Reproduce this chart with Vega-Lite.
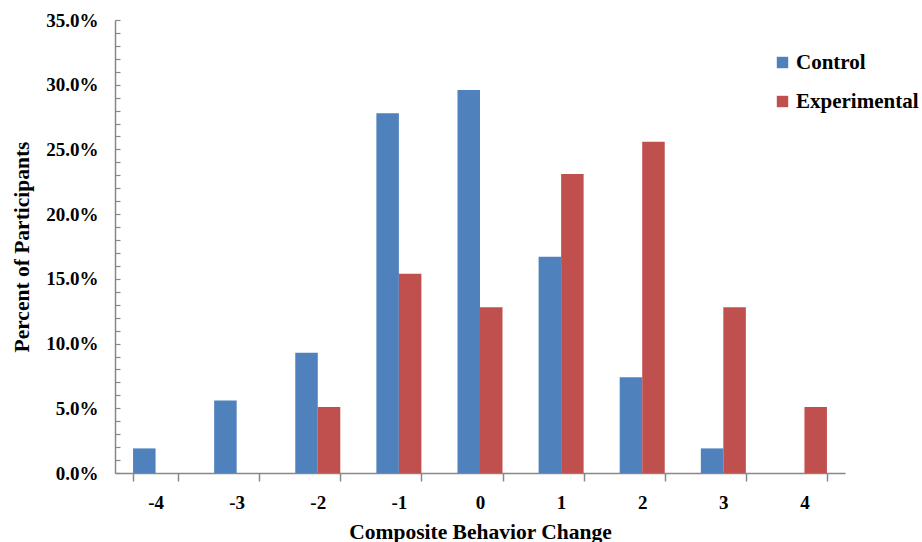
{
  "$schema": "https://vega.github.io/schema/vega-lite/v6.json",
  "autosize": {"type": "none"},
  "width": 730,
  "height": 453,
  "padding": {"left": 115, "top": 20, "right": 77, "bottom": 69},
  "background": "white",
  "config": {
    "view": {"stroke": null},
    "font": "Liberation Serif"
  },
  "data": {
    "values": [
      {"change": "-4", "group": "Control", "pct": 0.019},
      {"change": "-3", "group": "Control", "pct": 0.056},
      {"change": "-2", "group": "Control", "pct": 0.093},
      {"change": "-1", "group": "Control", "pct": 0.278},
      {"change": "0", "group": "Control", "pct": 0.296},
      {"change": "1", "group": "Control", "pct": 0.167},
      {"change": "2", "group": "Control", "pct": 0.074},
      {"change": "3", "group": "Control", "pct": 0.019},
      {"change": "4", "group": "Control", "pct": 0.0},
      {"change": "-4", "group": "Experimental", "pct": 0.0},
      {"change": "-3", "group": "Experimental", "pct": 0.0},
      {"change": "-2", "group": "Experimental", "pct": 0.051},
      {"change": "-1", "group": "Experimental", "pct": 0.154},
      {"change": "0", "group": "Experimental", "pct": 0.128},
      {"change": "1", "group": "Experimental", "pct": 0.231},
      {"change": "2", "group": "Experimental", "pct": 0.256},
      {"change": "3", "group": "Experimental", "pct": 0.128},
      {"change": "4", "group": "Experimental", "pct": 0.051}
    ]
  },
  "mark": {"type": "bar"},
  "encoding": {
    "x": {
      "field": "change",
      "type": "nominal",
      "sort": ["-4", "-3", "-2", "-1", "0", "1", "2", "3", "4"],
      "scale": {"paddingInner": 0.445, "paddingOuter": 0.2225},
      "axis": {
        "title": "Composite Behavior Change",
        "titleFont": "Liberation Serif",
        "titleFontSize": 21.5,
        "titleFontWeight": "bold",
        "titleColor": "black",
        "titlePadding": 9,
        "labelAngle": 0,
        "labelFont": "Liberation Serif",
        "labelFontSize": 19,
        "labelFontWeight": "bold",
        "labelColor": "black",
        "labelPadding": 12,
        "tickBand": "extent",
        "tickSize": 8,
        "tickColor": "#888888",
        "domainColor": "#888888",
        "domainWidth": 1.5,
        "tickWidth": 1.5
      }
    },
    "xOffset": {
      "field": "group",
      "type": "nominal",
      "sort": ["Control", "Experimental"]
    },
    "y": {
      "field": "pct",
      "type": "quantitative",
      "scale": {"domain": [0, 0.35], "nice": false},
      "axis": {
        "title": "Percent of Participants",
        "titleFont": "Liberation Serif",
        "titleFontSize": 21.5,
        "titleFontWeight": "bold",
        "titleColor": "black",
        "titlePadding": 12,
        "values": [0, 0.01, 0.02, 0.03, 0.04, 0.05, 0.06, 0.07, 0.08, 0.09, 0.1, 0.11, 0.12, 0.13, 0.14, 0.15, 0.16, 0.17, 0.18, 0.19, 0.2, 0.21, 0.22, 0.23, 0.24, 0.25, 0.26, 0.27, 0.28, 0.29, 0.3, 0.31, 0.32, 0.33, 0.34, 0.35],
        "labelExpr": "abs(round(datum.value * 100) % 5) == 0 ? format(datum.value, '.1%') : ''",
        "labelFont": "Liberation Serif",
        "labelFontSize": 19,
        "labelFontWeight": "bold",
        "labelColor": "black",
        "labelPadding": 22,
        "tickSize": -5,
        "tickColor": "#888888",
        "tickWidth": 1.2,
        "domainColor": "#888888",
        "domainWidth": 1.5,
        "grid": false
      }
    },
    "color": {
      "field": "group",
      "type": "nominal",
      "scale": {"domain": ["Control", "Experimental"], "range": ["#4F81BD", "#C0504D"]},
      "legend": {
        "title": null,
        "orient": "none",
        "legendX": 657,
        "legendY": 32,
        "symbolType": "square",
        "symbolSize": 130,
        "symbolStrokeWidth": 0,
        "labelFont": "Liberation Serif",
        "labelFontSize": 21,
        "labelFontWeight": "bold",
        "labelColor": "black",
        "labelOffset": 3,
        "rowPadding": 17
      }
    }
  }
}
